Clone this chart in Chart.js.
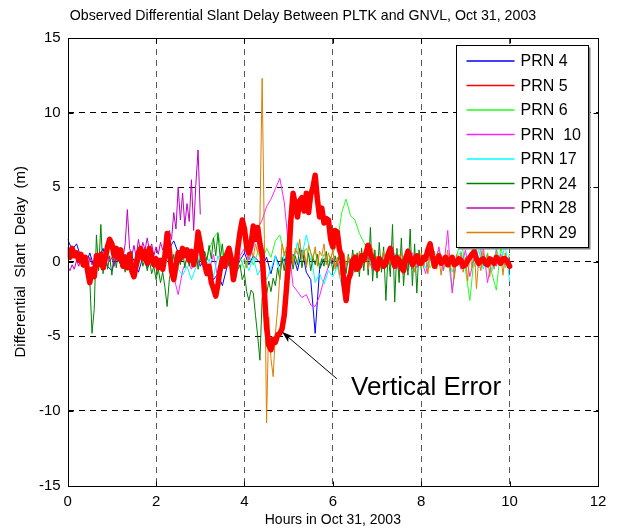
<!DOCTYPE html>
<html>
<head>
<meta charset="utf-8">
<title>Differential Slant Delay</title>
<script src="https://cdn.jsdelivr.net/npm/chart.js@4.4.0/dist/chart.umd.min.js"></script>
<style>
  html, body { margin: 0; padding: 0; background: #fff; }
  #wrap { width: 618px; height: 531px; }
</style>
</head>
<body>
<div id="wrap"><canvas id="delayChart" width="618" height="531"></canvas></div>
<script>
// Differential slant delay (m) per satellite, PLTK vs GNVL, Oct 31 2003.
// Each series is sampled at a fixed step (hours) from its start hour.

const chartTitle = "Observed Differential Slant Delay Between PLTK and GNVL, Oct 31, 2003";
const xTitle = "Hours in Oct 31, 2003";
const yTitle = "Differential  Slant  Delay  (m)";

const prnLabels = ["PRN 4", "PRN 5", "PRN 6", "PRN  10", "PRN 17", "PRN 24", "PRN 28", "PRN 29"];
const prnStart = [0, 0, 3.0, 2.3, 2.3, 0.5, 0, 4.0];
const prnStep = [0.1, 0.05, 0.1, 0.1, 0.1, 0.05, 0.05, 0.05];

const prn4 = [
  1.5, 0.8, 1.2, 0.3, -0.3, 0.6, -0.4, 0.2, 0.9, -0.3,
  -0.6, 0.4, -0.2, 0.5, -0.3, 0.2, -0.7, 0.3, -0.4, 0.1,
  0.4, -0.2, 0.3, 0.9, 1.4, 0.6, 0.2, 0.7, 0.1, 0.5,
  -0.3, 0.2, -0.6, -1.2, -0.8, -1.6, -0.4, 0.3, -0.5, 0.1,
  0.6, -0.2, 0.4, 0.1, -0.3, 0.3, -0.8, 0.4, -0.3, 0.2,
  -0.9, 0.5, -0.6, 0.8, -0.7, -1.2, -4.8, -0.5, 0.2
];

// PRN 5 every 0.05 h, one row per half hour
const prn5 = [
  0.8, 0.3, 0.9, 0.4, 0.6, 0.1, 0.5, -0.2, 0.3, -0.6,
  -1.4, -0.5, -1.0, 0.4, -0.2, 0.5, -0.4, 0.2, 1.0, 1.5,
  1.2, 0.4, 0.9, 0.2, 0.8, -0.3, 0.3, -0.4, 0.5, -0.6,
  -1.0, -0.2, 0.6, 0.9, 0.2, 0.7, -0.1, 0.9, 0.3, -0.2,
  0.2, -0.4, 0.1, -0.5, 0.4, 1.9, 0.8, -0.6, -1.2, -0.3,
  0.6, 0.2, 0.9, 0.4, 0.8, 0.1, 0.7, -0.2, 0.5, 2.0,
  1.2, 0.3, -0.2, -0.8, -0.3, -1.4, -1.8, -2.3, -1.5, -0.5,
  0.2, -0.3, 0.5, 0.9, 0.2, -1.2, -0.4, 0.9, 2.0, 2.8,
  2.2, 1.0, 0.6, 1.2, 2.4, 1.5, 2.3, 1.2, 0.5, -2.0,
  -4.4, -5.6, -5.9, -5.2, -5.4, -4.9, -4.8, -4.5, -3.6, -1.8,
  0.2, 2.8, 4.6, 3.8, 3.0, 4.1, 4.3, 3.4, 4.6, 3.3,
  4.5, 5.0, 5.8, 4.2, 3.0, 3.6, 2.6, 2.9, 2.8, 1.5,
  1.0, 2.1, 2.0, 0.8, 0.4, -1.5, -2.6, -1.2, -0.8, 0.1,
  0.3, -0.5, -0.3, 0.4, 0.1, 0.6, 1.1, 0.5, 0.2, -0.3,
  -0.5, 0.2, 0.0, -0.3, -0.1, 0.5, 0.9, 0.2, -0.3, 0.3,
  0.1, -0.4, -0.6, 0.2, 0.7, 0.3, -0.2, 0.1, 0.4, -0.1,
  -0.1, 0.3, 0.2, 0.8, 1.2, 0.4, -0.3, 0.1, 0.4, -0.1,
  0.0, 0.3, -0.2, 0.1, 0.3, -0.2, -0.1, 0.2, 0.1, -0.3,
  -0.2, 0.1, 0.3, 0.5, 0.7, 0.2, -0.1, 0.1, 0.2, -0.1,
  -0.2, 0.2, 0.1, -0.1, 0.3, 0.1, -0.1, 0.2, 0.2, 0.0,
  -0.3
];

const prn6 = [
  0.2, -0.4, 0.8, 1.6, 2.0, 0.4, -0.3, 0.5, -0.2, 0.3,
  -0.5, 0.4, -0.2, 0.6, 0.1, 0.9, 0.3, 1.4, 1.8, 0.6,
  1.1, 0.2, 1.2, 0.4, 0.9, 0.1, 0.7, -0.2, 0.5, 0.0,
  0.6, 1.2, 3.3, 4.2, 3.1, 2.8, 1.9, 1.3, 0.7, 0.4,
  -0.2, 0.3, -0.4, 0.2, -0.3, 0.5, -0.1, 0.4, -0.5, 0.2,
  -0.3, 0.6, -0.4, 0.1, 0.8, -0.6, 0.4, -1.9, 0.3, 1.7,
  -0.5, -2.6, 0.4, 1.5, -0.3, 0.6, -0.8, -1.9, 1.0, -0.4,
  0.5
];

const prn10 = [
  -0.4, -1.0, -2.2, -0.6, 0.2, -0.5, 0.3, -0.2, 0.4, -0.6,
  0.5, -1.2, 0.3, -0.4, 0.2, -0.8, 0.4, 0.9, 0.1, 1.0,
  2.2, 2.8, 3.7, 4.2, 4.9, 5.6, 4.0, 1.0, -1.6, -2.0,
  -2.4, -2.2, -2.9, -3.0, -2.3, -1.2, -0.3, 0.2, -0.4, 0.3,
  -0.2, 0.1, -0.5, 0.4, -0.1, 0.3, -0.6, 0.2, -0.3, 0.5,
  -0.2, 0.3, -0.7, 0.4, -0.1, 0.6, -0.4, 0.2, -0.8, 0.5,
  -0.3, 1.0, -0.6, 2.1, -2.1, 0.4, -0.5, 0.8, -1.0, 0.3,
  -0.4, 1.1, -1.4, 0.2, -0.3, 0.5, -0.2, 0.3
];

const prn17 = [
  -0.2, 0.3, -0.5, -0.9, -0.3, -1.2, -0.4, 0.6, -0.7, 0.2,
  -1.0, 0.4, -0.6, 0.8, -0.8, 0.3, -0.4, 0.2, -0.6, 0.3,
  -0.9, -0.3, -1.2, -0.5, 0.4, -0.7, 0.5, 0.9, -0.2, 1.3,
  0.4, 1.8, 0.6, -1.4, -0.8, -1.5, -0.6, -1.0, -0.3, -1.6,
  -0.4, 0.2, -0.6, 0.3, -0.2, 0.5, -0.4, 0.1, -0.5, 0.4,
  -0.3, 0.6, -0.2, 0.3, -0.6, 0.2, -0.3, 0.5, -0.4, 0.3,
  -0.5, 0.6, -0.2, 0.4, -0.7, 0.2, 0.7, -0.4, 0.5, -0.3,
  0.8, -0.5, 0.3, -0.6, 0.9, -0.2, 1.2, -1.3
];

const prn24 = [
  -1.2, -4.8, -3.2, 1.8, -0.6, 2.5, -0.8, 0.9, -0.5, 0.4,
  -0.9, 0.6, -0.4, 0.8, -0.3, 0.2, -0.7, 0.5, -0.2, 0.7,
  -0.5, 0.3, -0.3, 0.6, -0.3, 0.2, -0.6, 0.1, -0.8, -0.3,
  -1.2, -0.5, -1.4, -0.7, -1.7, -3.0, -1.2, -0.4, 0.5, -0.6,
  0.3, -0.2, 0.8, -0.4, 0.4, -0.3, 0.6, -0.1, 0.9, -0.5,
  0.3, -0.2, 0.7, 0.1, 1.1, 0.2, 1.6, 0.4, 1.9, 0.3,
  1.2, -0.4, 0.6, -0.3, 0.5, -0.6, 0.2, -0.5, -0.2, -1.2,
  -0.8, -2.0, -2.6, -1.9, -2.1, -3.6, -5.0, -6.6, -2.4, -1.7,
  -2.2, -1.3, -2.0, -1.1, -1.6, -0.4, -1.2, 0.3, -0.6, 0.7,
  -0.3, 0.6, -0.5, 0.4, -0.2, 0.9, -0.4, 0.5, -0.3, 0.6,
  -0.6, 0.3, -0.2, 0.5, -0.5, 0.2, -0.3, 0.7, -0.4, 0.3,
  -0.6, 0.4, -0.3, 0.6, -0.5, 0.2, -0.8, 0.5, -0.4, 0.8,
  -0.7, 0.6, -1.0, 0.9, -0.6, 1.2, -0.9, 2.3, -1.3, 0.8,
  -1.1, 1.3, -0.7, 1.0, -2.6, 0.6, -1.0, 2.5, -2.7, 0.9,
  -1.4, 1.6, -1.6, 0.7, -0.9, 2.2, -1.6, 1.2, -2.1, 0.8,
  -0.5
];

const prn28 = [
  -0.3, -0.6, -0.2, -0.5, 0.1, -0.3, 0.2, -0.4, 0.0, -0.6,
  0.3, -0.2, 0.1, -0.4, 0.4, -0.1, 0.2, -0.5, 0.5, 0.0,
  0.3, -0.3, 0.6, 0.1, 0.8, 0.2, 1.2, 3.5, 0.9, 0.4,
  1.1, 0.3, 1.5, 0.6, 1.3, 0.8, 1.6, 0.7, 1.2, 0.4,
  1.0, 0.5, 1.3, 0.8, 1.1, 1.7, 2.1, 1.5, 3.3, 2.2,
  5.0, 2.8, 4.6, 2.4, 3.9, 2.7, 5.5, 2.1, 5.2, 7.5,
  3.2
];

const prn29 = [
  0.2, -0.4, 0.5, 0.9, 0.3, 1.2, 0.6, 2.8, 12.3, 1.5,
  -10.8, -3.7, -6.5, -7.7, -4.8, -3.2, -1.0, 1.2, 0.4, 1.0,
  0.3, 1.3, -0.2, 0.9, 0.5, 1.5, 0.2, 0.8, -0.4, 1.1,
  0.6, 0.2, 1.0, -0.3, 0.7, 0.4, 1.2, -0.2, 0.6, 0.1,
  0.8, -0.5, 0.3, -0.9, 0.2, 0.6, -0.3, 0.4, -0.6, 0.2,
  0.5, -0.2, 0.7, -0.4, 0.1, 0.6, -0.5, 0.3, 0.9, -0.2,
  0.4, -0.6, 0.2, 0.7, -0.3, 0.5, -0.1, 0.8, -0.4, 0.3,
  -0.2, 0.6, 0.1, -0.5, 0.9, -0.2, 0.4, -0.7, 0.5, 0.0,
  0.6, -0.4, 0.3, -0.8, 0.5, -0.2, 0.7, -0.5, 0.2, -0.9,
  0.4, -0.3, 0.8, -0.6, 0.2, -1.1, 0.5, -0.2, 0.6, -0.7,
  0.3, -1.3, 0.6, -0.4, 0.9, -1.8, 0.2, -0.6, 0.7, -0.3,
  0.5, -1.0, 0.3, -0.5, 0.8, -0.2, 0.4, -0.9, 0.6, -0.4,
  0.1
];

const prnValues = [prn4, prn5, prn6, prn10, prn17, prn24, prn28, prn29];

// callout: arrow from the label down to the PRN 5 dip
const calloutText = "Vertical Error";
const calloutAt = [6.41, -8.9];
const arrowTail = [6.09, -7.84];
const arrowTip = [4.85, -4.7];

const prnColors = ["#0000ff", "#ff0000", "#22ff22", "#ff22ff", "#00ffff", "#008000", "#bf00bf", "#df7d00"];
const prnWidths = [1, 5.5, 1, 1, 1, 1, 1, 1];
const prnOrder = [8, -1, 7, 6, 5, 4, 3, 2];

const FONT = "'Liberation Sans', Arial, Helvetica, sans-serif";

function toPoints(values, start, step) {
  return values.map((v, i) => ({ x: +(start + i * step).toFixed(2), y: v }));
}

const datasets = prnValues.map((values, i) => ({
  label: prnLabels[i],
  data: toPoints(values, prnStart[i], prnStep[i]),
  borderColor: prnColors[i],
  backgroundColor: prnColors[i],
  borderWidth: prnWidths[i],
  borderJoinStyle: "round",
  borderCapStyle: "round",
  pointRadius: 0,
  tension: 0,
  fill: false,
  order: prnOrder[i],
}));

// dashed grid only inside the box, the frame covers the edges
function innerGrid(color) {
  return (ctx) => {
    const s = ctx.scale;
    if (ctx.tick && (ctx.tick.value === s.min || ctx.tick.value === s.max)) return "rgba(0,0,0,0)";
    return color;
  };
}

// box around the axes with short inward tick marks
const axesFrame = {
  id: "axesFrame",
  afterDatasetsDraw(chart) {
    const { ctx, chartArea: a, scales } = chart;
    const l = Math.round(a.left) + 0.5, r = Math.round(a.right) + 0.5;
    const t = Math.round(a.top) + 0.5, b = Math.round(a.bottom) + 0.5;
    ctx.save();
    ctx.strokeStyle = "#000";
    ctx.lineWidth = 1;
    ctx.strokeRect(l, t, r - l, b - t);
    ctx.beginPath();
    scales.x.ticks.forEach((tk) => {
      const px = Math.round(scales.x.getPixelForValue(tk.value)) + 0.5;
      ctx.moveTo(px, b); ctx.lineTo(px, b - 5);
      ctx.moveTo(px, t); ctx.lineTo(px, t + 5);
    });
    scales.y.ticks.forEach((tk) => {
      const py = Math.round(scales.y.getPixelForValue(tk.value)) + 0.5;
      ctx.moveTo(l, py); ctx.lineTo(l + 5, py);
      ctx.moveTo(r, py); ctx.lineTo(r - 5, py);
    });
    ctx.stroke();
    ctx.restore();
  },
};

const callout = {
  id: "callout",
  afterDatasetsDraw(chart) {
    const { ctx, scales: { x, y } } = chart;
    const tx = x.getPixelForValue(arrowTip[0]), ty = y.getPixelForValue(arrowTip[1]);
    const sx = x.getPixelForValue(arrowTail[0]), sy = y.getPixelForValue(arrowTail[1]);
    const ang = Math.atan2(ty - sy, tx - sx);
    const len = 12, spread = 0.32;
    ctx.save();
    ctx.strokeStyle = "#000";
    ctx.fillStyle = "#000";
    ctx.lineWidth = 1;
    ctx.beginPath();
    ctx.moveTo(sx, sy);
    ctx.lineTo(tx - 6 * Math.cos(ang), ty - 6 * Math.sin(ang));
    ctx.stroke();
    ctx.beginPath();
    ctx.moveTo(tx, ty);
    ctx.lineTo(tx - len * Math.cos(ang - spread), ty - len * Math.sin(ang - spread));
    ctx.lineTo(tx - 0.7 * len * Math.cos(ang), ty - 0.7 * len * Math.sin(ang));
    ctx.lineTo(tx - len * Math.cos(ang + spread), ty - len * Math.sin(ang + spread));
    ctx.closePath();
    ctx.fill();
    ctx.font = "26px " + FONT;
    ctx.textAlign = "left";
    ctx.textBaseline = "alphabetic";
    ctx.fillText(calloutText, x.getPixelForValue(calloutAt[0]), y.getPixelForValue(calloutAt[1]));
    ctx.restore();
  },
};

// legend box in the upper right corner of the axes
const legendBox = {
  id: "legendBox",
  afterDraw(chart) {
    const { ctx, chartArea: a } = chart;
    const left = Math.round(a.right - 142) + 0.5;
    const top = Math.round(a.top + 7) + 0.5;
    const w = 132, h = 202, rowH = 24.5;
    ctx.save();
    ctx.fillStyle = "#fff";
    ctx.fillRect(left, top, w, h);
    ctx.strokeStyle = "#808080";
    ctx.lineWidth = 2;
    ctx.beginPath();
    ctx.moveTo(left + w + 1, top + 2);
    ctx.lineTo(left + w + 1, top + h + 1);
    ctx.lineTo(left + 2, top + h + 1);
    ctx.stroke();
    ctx.strokeStyle = "#000";
    ctx.lineWidth = 1;
    ctx.strokeRect(left, top, w, h);
    ctx.font = "16px " + FONT;
    ctx.textBaseline = "middle";
    ctx.textAlign = "left";
    chart.data.datasets.forEach((ds, i) => {
      const yy = top + 15.5 + i * rowH;
      ctx.strokeStyle = ds.borderColor;
      ctx.lineWidth = 1.5;
      ctx.beginPath();
      ctx.moveTo(left + 10, yy);
      ctx.lineTo(left + 58, yy);
      ctx.stroke();
      ctx.fillStyle = "#000";
      ctx.fillText(ds.label, left + 64, yy + 1);
    });
    ctx.restore();
  },
};

new Chart(document.getElementById("delayChart"), {
  type: "line",
  data: { datasets },
  options: {
    responsive: false,
    animation: false,
    events: [],
    layout: { padding: { left: 8, right: 20, top: 0, bottom: 0 } },
    plugins: {
      legend: { display: false },
      tooltip: { enabled: false },
      title: {
        display: true,
        text: chartTitle,
        color: "#000",
        font: { family: FONT, size: 14.2, weight: "normal" },
        padding: { top: 8, bottom: 13 },
      },
    },
    scales: {
      x: {
        type: "linear",
        min: 0,
        max: 12,
        ticks: { stepSize: 2, color: "#000", font: { family: FONT, size: 15 }, padding: 7 },
        grid: { color: innerGrid("#555"), lineWidth: 1, drawTicks: false },
        border: { display: false, dash: [6, 5] },
        title: {
          display: true,
          text: xTitle,
          color: "#000",
          font: { family: FONT, size: 14 },
          padding: { top: 0, bottom: 2 },
        },
        afterFit(scale) { scale.height = 45.5; },
      },
      y: {
        type: "linear",
        min: -15,
        max: 15,
        ticks: { stepSize: 5, color: "#000", font: { family: FONT, size: 15 }, padding: 7 },
        grid: { color: innerGrid("#000"), lineWidth: 1, drawTicks: false },
        border: { display: false, dash: [6, 5] },
        title: {
          display: true,
          text: yTitle,
          color: "#000",
          font: { family: FONT, size: 15 },
          padding: { top: 4, bottom: 0 },
        },
        afterFit(scale) { scale.width = 59.7; },
      },
    },
  },
  plugins: [axesFrame, callout, legendBox],
});
</script>
</body>
</html>
